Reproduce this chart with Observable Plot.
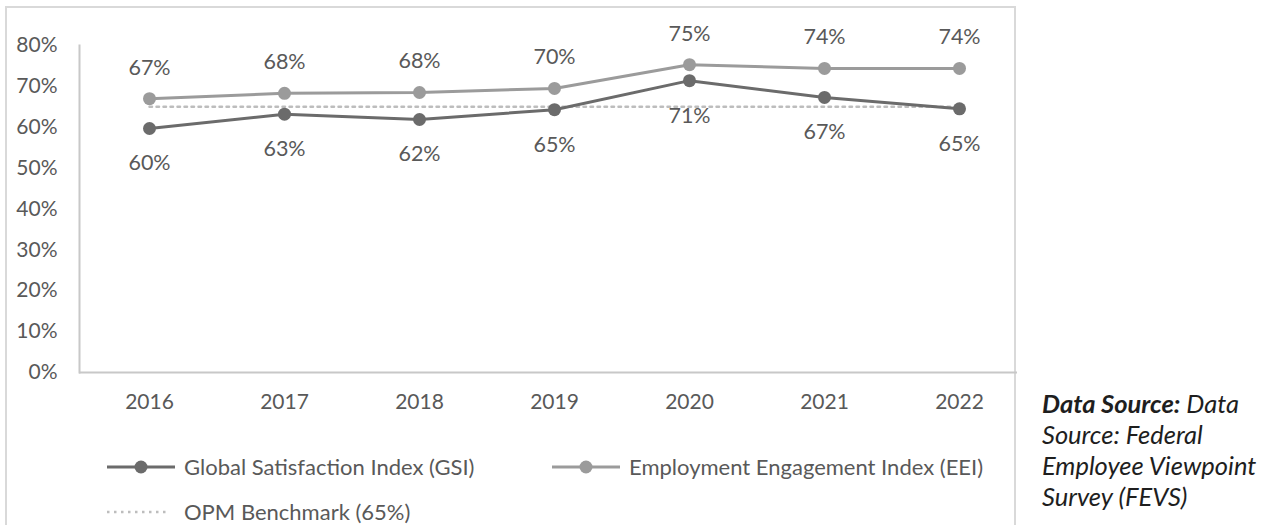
<!DOCTYPE html>
<html>
<head>
<meta charset="utf-8">
<script src="https://cdn.jsdelivr.net/npm/d3@7"></script>
<script src="https://cdn.jsdelivr.net/npm/@observablehq/plot@0.6"></script>
<style>
  html, body { margin: 0; padding: 0; background: #fff; }
  #wrap { position: relative; width: 1277px; height: 525px; overflow: hidden; font-family: Lato, "Open Sans", sans-serif; }
  #frame { position: absolute; left: 5px; top: 6px; width: 1011px; height: 540px; border: 2px solid #d9d9d9; box-sizing: border-box; }
  #chart { position: absolute; left: 0; top: 0; }
  .leg { position: absolute; display: flex; align-items: center; color: #595959; font-size: 22px; white-space: nowrap; }
  .leg svg { margin-right: 8px; }
  #caption { position: absolute; left: 1042px; top: 388px; font-size: 25.5px; line-height: 31px; font-style: italic; color: #1e1e1e; }
</style>
</head>
<body>
<div id="wrap">
  <div id="frame"></div>
  <div id="chart"></div>
  <div id="legend"></div>
  <div id="caption"><b>Data Source:</b> Data<br>Source: Federal<br>Employee Viewpoint<br>Survey (FEVS)</div>
</div>
<script>
const years = ["2016", "2017", "2018", "2019", "2020", "2021", "2022"];
const gsiValues = [59.7, 63.2, 61.9, 64.3, 71.4, 67.3, 64.5];
const eeiValues = [67.0, 68.3, 68.5, 69.5, 75.3, 74.4, 74.4];
const gsiLabels = ["60%", "63%", "62%", "65%", "71%", "67%", "65%"];
const eeiLabels = ["67%", "68%", "68%", "70%", "75%", "74%", "74%"];
const benchmarkValues = [65, 65, 65, 65, 65, 65, 65];
const yTicks = [0, 10, 20, 30, 40, 50, 60, 70, 80];
const seriesNames = ["Global Satisfaction Index (GSI)", "Employment Engagement Index (EEI)", "OPM Benchmark (65%)"];

const gsiColor = "#6b6b6b";
const eeiColor = "#9b9b9b";
const benchColor = "#bdbdbd";
const textColor = "#595959";

const gsi = years.map((y, i) => ({year: y, value: gsiValues[i], label: gsiLabels[i]}));
const eei = years.map((y, i) => ({year: y, value: eeiValues[i], label: eeiLabels[i]}));
const bench = years.map((y, i) => ({year: y, value: benchmarkValues[i]}));

const plot = Plot.plot({
  width: 1018,
  height: 422,
  marginLeft: 79,
  marginRight: 1,
  marginTop: 45,
  marginBottom: 50,
  style: {fontFamily: "Lato, 'Open Sans', sans-serif", color: textColor, background: "transparent", overflow: "visible"},
  x: {type: "point", domain: years, range: [147, 961], padding: 0},
  y: {domain: [0, 80]},
  marks: [
    Plot.axisY({ticks: yTicks, tickFormat: d => d + "%", tickSize: 0, tickPadding: 22, fontSize: 21, fill: textColor, label: null}),
    Plot.axisX({tickSize: 0, tickPadding: 22, fontSize: 21, fill: textColor, label: null}),
    Plot.ruleY([0], {stroke: "#c8c8c8", strokeWidth: 2}),
    Plot.frame({anchor: "left", stroke: "#c8c8c8", strokeWidth: 2}),
    Plot.lineY(bench, {x: "year", y: "value", stroke: benchColor, strokeWidth: 2.5, strokeDasharray: "2.5,4.5"}),
    Plot.lineY(eei, {x: "year", y: "value", stroke: eeiColor, strokeWidth: 3}),
    Plot.dot(eei, {x: "year", y: "value", r: 6.5, fill: eeiColor, stroke: "none"}),
    Plot.lineY(gsi, {x: "year", y: "value", stroke: gsiColor, strokeWidth: 3}),
    Plot.dot(gsi, {x: "year", y: "value", r: 6.5, fill: gsiColor, stroke: "none"}),
    Plot.text(eei, {x: "year", y: "value", text: "label", dy: -31, fontSize: 21.5, fill: textColor}),
    Plot.text(gsi, {x: "year", y: "value", text: "label", dy: 35, fontSize: 21.5, fill: textColor})
  ]
});
document.getElementById("chart").appendChild(plot);

// Legend (HTML)
const legend = document.getElementById("legend");
function addItem(left, top, name, swatch) {
  const div = document.createElement("div");
  div.className = "leg";
  div.style.left = left + "px";
  div.style.top = top + "px";
  div.innerHTML = swatch + "<span>" + name + "</span>";
  legend.appendChild(div);
}
const lineSwatch = c => `<svg width="70" height="20"><line x1="1" y1="10" x2="69" y2="10" stroke="${c}" stroke-width="3"/><circle cx="35" cy="10" r="6.5" fill="${c}"/></svg>`;
const dotSwatch = `<svg width="70" height="20"><line x1="1" y1="10" x2="64" y2="10" stroke="${benchColor}" stroke-width="2.5" stroke-dasharray="2.5,4.5"/></svg>`;
addItem(106, 453, seriesNames[0], lineSwatch(gsiColor));
addItem(551, 453, seriesNames[1], lineSwatch(eeiColor));
addItem(106, 498, seriesNames[2], dotSwatch);
</script>
</body>
</html>
